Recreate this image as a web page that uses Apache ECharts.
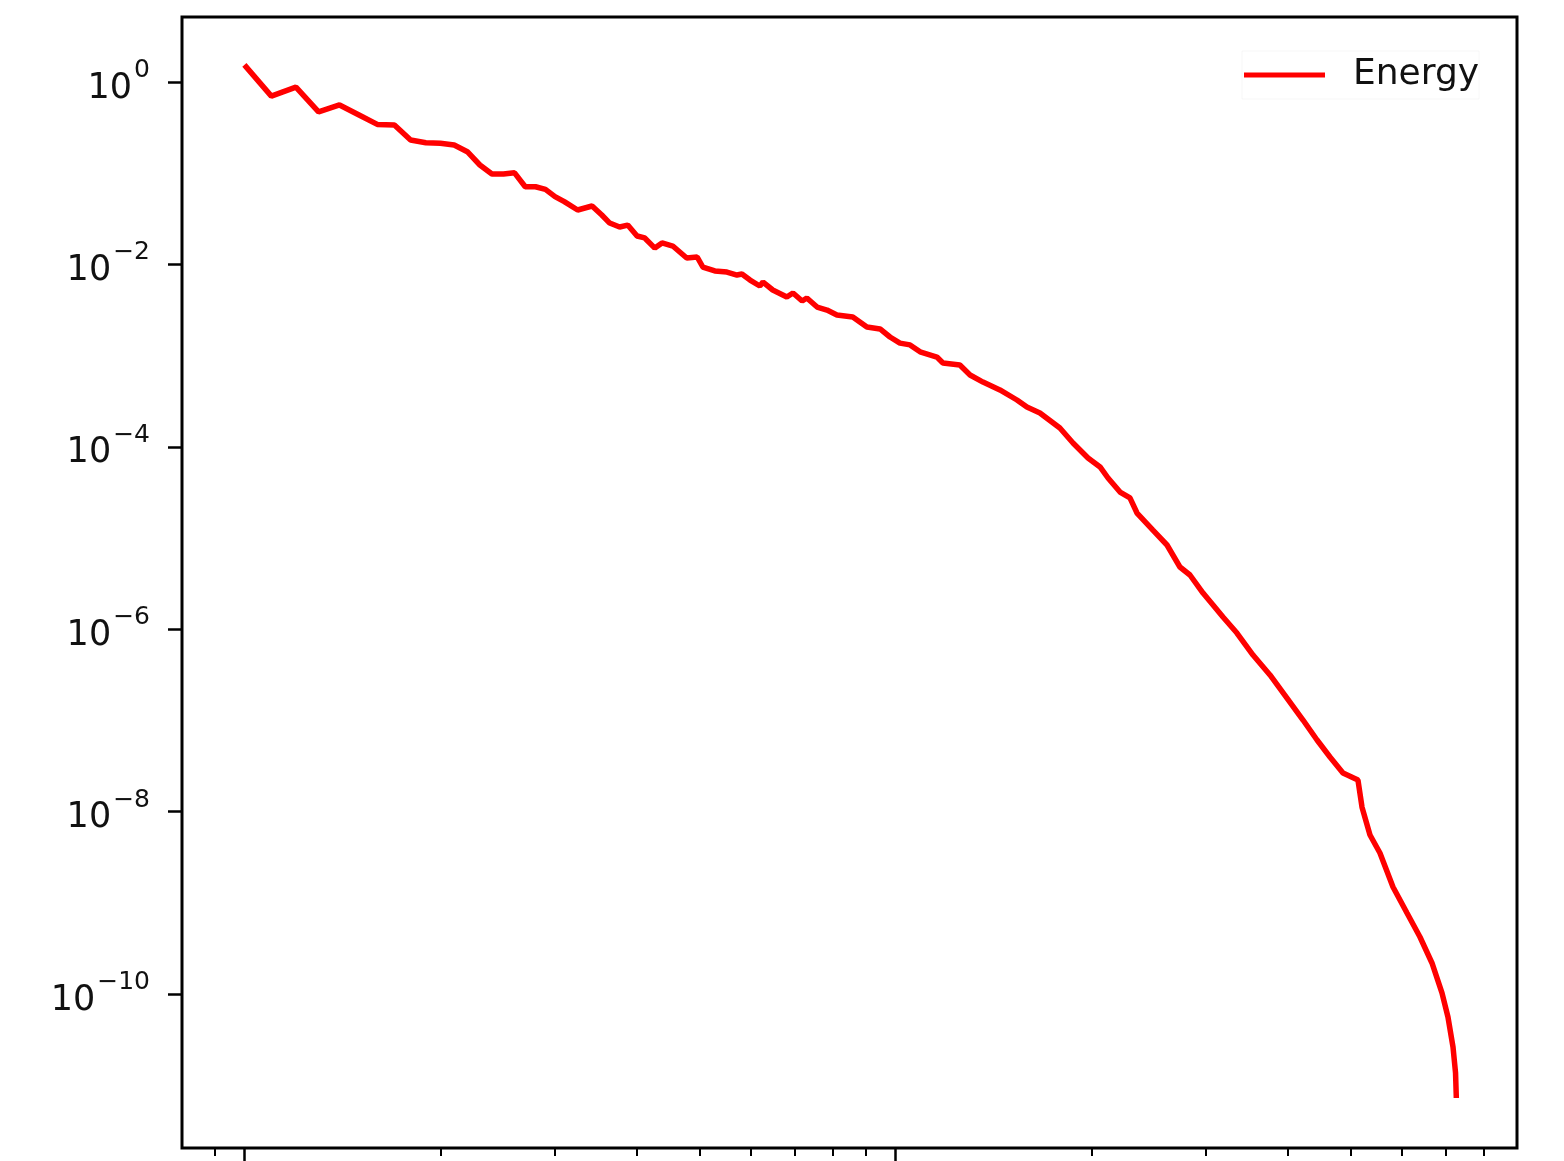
<!DOCTYPE html>
<html>
<head>
<meta charset="utf-8">
<script src="https://cdn.jsdelivr.net/npm/echarts@6/dist/echarts.min.js"></script>
<style>html,body{margin:0;padding:0;background:#fff}#chart{width:1564px;height:1161px}</style>
</head>
<body>
<div id="chart"></div>
<script>
// wavenumber k
const wavenumber = [1.0,1.1,1.2,1.3,1.4,1.5,1.6,1.7,1.8,1.9,2.0,2.1,2.2,2.3,2.4,2.5,2.6,2.7,2.8,2.9,3.0,3.1,3.25,3.42,3.54,3.64,3.77,3.88,4.01,4.12,4.27,4.38,4.55,4.78,4.96,5.06,5.28,5.51,5.71,5.81,5.98,6.19,6.26,6.48,6.81,6.96,7.19,7.31,7.58,7.85,8.13,8.60,9.04,9.47,9.81,10.16,10.53,10.91,11.58,11.83,12.56,13.02,13.63,14.47,15.37,15.92,16.67,17.89,18.74,19.76,20.62,21.21,22.13,22.92,23.50,24.86,26.13,27.35,28.34,29.68,30.75,31.85,33.46,35.42,37.61,39.94,42.27,44.42,46.50,48.69,51.34,52.08,53.57,55.49,58.11,61.06,63.93,66.70,69.10,70.58,71.85,72.5,72.7];
// energy spectrum E(k)
const energy = [1.54,0.70,0.88,0.47,0.56,0.435,0.343,0.338,0.231,0.216,0.213,0.204,0.172,0.123,0.098,0.098,0.101,0.071,0.071,0.0665,0.0553,0.0487,0.0395,0.0437,0.0348,0.0284,0.0257,0.0270,0.0205,0.0195,0.0151,0.0172,0.0159,0.01175,0.01205,0.00936,0.00847,0.00825,0.00765,0.00785,0.00674,0.00580,0.00641,0.00524,0.00439,0.00486,0.00397,0.00428,0.00341,0.00316,0.00279,0.00265,0.00206,0.00196,0.00160,0.00137,0.00131,0.00110,0.000965,0.000830,0.000789,0.000613,0.000513,0.000420,0.000326,0.000273,0.000235,0.000161,0.000110,7.54e-5,6.01e-5,4.55e-5,3.19e-5,2.75e-5,1.88e-5,1.22e-5,8.38e-6,4.81e-6,3.93e-6,2.49e-6,1.84e-6,1.36e-6,9.08e-7,5.21e-7,3.15e-7,1.76e-7,1.01e-7,6.10e-8,3.97e-8,2.65e-8,2.22e-8,1.12e-8,5.54e-9,3.52e-9,1.49e-9,7.73e-10,4.22e-10,2.19e-10,1.03e-10,5.60e-11,2.62e-11,1.36e-11,7.24e-12];
const xMajorTicks = [1, 10];
const xMinorTicks = [0.9, 2, 3, 4, 5, 6, 7, 8, 9, 20, 30, 40, 50, 60, 70, 80];
const yTicks = [1, 1e-2, 1e-4, 1e-6, 1e-8, 1e-10];
const seriesName = 'Energy';

const pairs = wavenumber.map((k, i) => [k, energy[i]]);
const FONT = 'DejaVu Sans';
const chart = echarts.init(document.getElementById('chart'), null, {renderer: 'canvas'});
const xRange = {min: 0.802, max: 90.1};
const yRange = {min: 2.05e-12, max: 5.16};
function supLabel(v) {
  const e = Math.round(Math.log10(v));
  return '{b|10}{s|' + (e < 0 ? '\u2212' + (-e) : String(e)) + '}';
}
chart.setOption({
  animation: false,
  backgroundColor: '#fff',
  grid: {left: 182, right: 47, top: 17, bottom: 13, show: true, borderColor: '#000', borderWidth: 3, backgroundColor: 'transparent'},
  legend: {
    data: [seriesName], left: 1242, top: 51, orient: 'vertical',
    icon: 'rect', itemWidth: 81, itemHeight: 5,
    padding: [4, 0, 4, 2], borderColor: 'rgba(0,0,0,0.03)', borderWidth: 1,
    textStyle: {fontFamily: FONT, fontSize: 36, color: '#111', padding: [0, 0, 0, 23], lineHeight: 40}
  },
  xAxis: [
    {type: 'log', min: xRange.min, max: xRange.max, position: 'bottom',
     axisLine: {show: false}, splitLine: {show: false},
     axisTick: {show: true, length: 14, lineStyle: {color: '#000', width: 2.5}, customValues: xMajorTicks},
     axisLabel: {show: false}},
    {type: 'log', min: xRange.min, max: xRange.max, position: 'bottom',
     axisLine: {show: false}, splitLine: {show: false},
     axisTick: {show: true, length: 8, lineStyle: {color: '#000', width: 2}, customValues: xMinorTicks},
     axisLabel: {show: false}}
  ],
  yAxis: {
    type: 'log', min: yRange.min, max: yRange.max,
    axisLine: {show: false}, splitLine: {show: false},
    axisTick: {show: true, length: 14, lineStyle: {color: '#000', width: 2.5}, customValues: yTicks},
    axisLabel: {
      show: true, customValues: yTicks, margin: 32,
      formatter: supLabel,
      rich: {
        b: {fontFamily: FONT, fontSize: 35, color: '#111', lineHeight: 48, verticalAlign: 'bottom'},
        s: {fontFamily: FONT, fontSize: 25, color: '#111', lineHeight: 26, verticalAlign: 'top', padding: [0, 0, 0, 2]}
      }
    }
  },
  series: [{
    name: seriesName, type: 'line', xAxisIndex: 0, yAxisIndex: 0,
    data: pairs, showSymbol: false, symbol: 'none',
    lineStyle: {color: '#ff0000', width: 5.5}, itemStyle: {color: '#ff0000'},
    z: 3
  }]
});
</script>
</body>
</html>
